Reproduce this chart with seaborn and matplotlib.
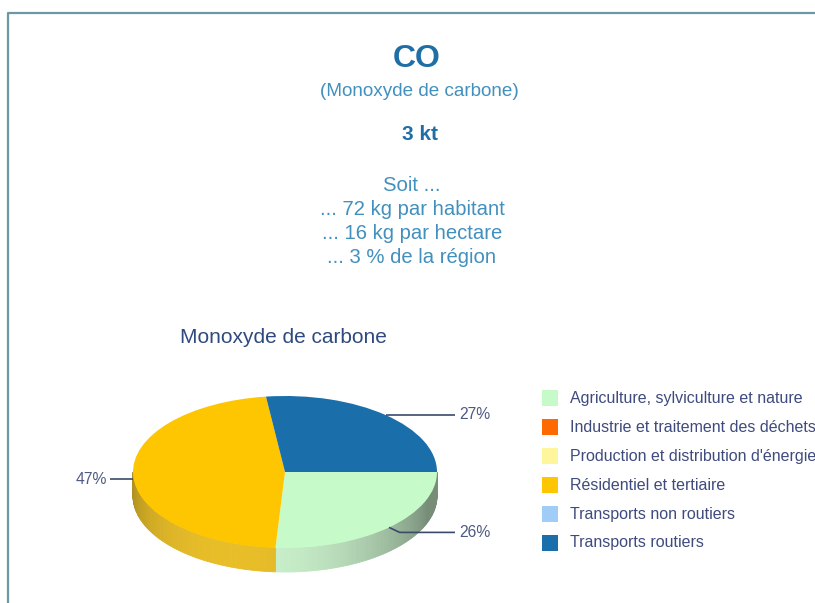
import numpy as np
import matplotlib
matplotlib.use("Agg")
import matplotlib.pyplot as plt
import matplotlib.colors as mcolors
from matplotlib.patches import Polygon, Rectangle
import seaborn as sns

# ---------------- data ----------------
pollutant = "CO"
pollutant_name = "(Monoxyde de carbone)"
total_label = "3 kt"
detail_lines = ["Soit ...", "... 72 kg par habitant", "... 16 kg par hectare", "... 3 % de la région"]
chart_title = "Monoxyde de carbone"
sectors = [
    "Agriculture, sylviculture et nature",
    "Industrie et traitement des déchets",
    "Production et distribution d'énergie",
    "Résidentiel et tertiaire",
    "Transports non routiers",
    "Transports routiers",
]
shares = [26, 0, 0, 47, 0, 27]
sector_colors = ["#c6fac8", "#ff6a00", "#fff59c", "#fec600", "#9fcdf7", "#1a6eaa"]

# ---------------- style ----------------
sns.set_theme(style="white")
plt.rcParams["font.family"] = ["Liberation Sans", "DejaVu Sans"]

W, H = 815, 603
fig = plt.figure(figsize=(W / 100, H / 100), dpi=100)
fig.patch.set_facecolor("white")

# overlay axes in pixel coordinates
ov = fig.add_axes([0, 0, 1, 1])
ov.set_xlim(0, W)
ov.set_ylim(H, 0)
ov.axis("off")

# frame border
ov.plot([8, 8, W], [H, 13, 13], color="#6c98a4", lw=1.6, solid_capstyle="butt")

# header texts
blue_dark = "#1f6ea6"
blue_mid = "#4290bd"
ov.text(417, 67, pollutant, ha="center", va="baseline", fontsize=23, fontweight="bold", color=blue_dark)
ov.text(419, 96, pollutant_name, ha="center", va="baseline", fontsize=13.6, color=blue_mid)
ov.text(420, 140, total_label, ha="center", va="baseline", fontsize=15, fontweight="bold", color=blue_dark)
for i, line in enumerate(detail_lines):
    ov.text(412, 191 + 24 * i, line, ha="center", va="baseline", fontsize=14.6, color=blue_mid)

ov.text(180, 343, chart_title, ha="left", va="baseline", fontsize=15, color="#2f4a7e")

# legend
for i, (name, col) in enumerate(zip(sectors, sector_colors)):
    y = 398 + 29 * i
    ov.add_patch(Rectangle((542, y - 8), 16, 16, facecolor=col, edgecolor="none"))
    ov.text(570, y, name, ha="left", va="center", fontsize=11.5, color="#3f4b7d")

# ---------------- pie ----------------
px0, px1, py0, py1 = 60, 510, 372, 600
cx, cy, rx, ry = 285, 472, 152, 76
depth = 24 / ry
pa = fig.add_axes([px0 / W, (H - py1) / H, (px1 - px0) / W, (py1 - py0) / H])
vals = np.array(shares, float)
nz = vals > 0
pa.pie(vals[nz], colors=list(np.array(sector_colors)[nz]), startangle=0, counterclock=False,
       radius=1, center=(0, 0), wedgeprops=dict(linewidth=0))
pa.set_aspect("auto")
pa.set_xlim(-(cx - px0) / rx, (px1 - cx) / rx)
pa.set_ylim(-(py1 - cy) / ry, (cy - py0) / ry)
pa.axis("off")

frac = vals / vals.sum()
ends = np.cumsum(frac)
starts = ends - frac
light_dir = np.deg2rad(250)
for s, e, c, v in zip(starts, ends, sector_colors, vals):
    if v <= 0:
        continue
    a0, a1 = 360 - e * 360, 360 - s * 360
    lo, hi = max(a0, 180), min(a1, 360)
    if hi <= lo:
        continue
    ts = np.linspace(lo, hi, int(hi - lo) + 2)
    base = np.array(mcolors.to_rgb(c))
    grey = base.mean()
    for t0, t1 in zip(ts[:-1], ts[1:]):
        tm = np.deg2rad((t0 + t1) / 2)
        f = 0.55 + 0.42 * max(0.0, np.cos(tm - light_dir))
        col = np.clip((0.78 * base + 0.22 * grey) * f + 0.03, 0, 1)
        r0, r1 = np.deg2rad(t0), np.deg2rad(t1)
        poly = [(np.cos(r0), np.sin(r0)), (np.cos(r1), np.sin(r1)),
                (np.cos(r1), np.sin(r1) - depth), (np.cos(r0), np.sin(r0) - depth)]
        pa.add_patch(Polygon(poly, closed=True, facecolor=col, edgecolor=col, lw=0.6, zorder=0.5))

# leader lines and labels
for s, e, v in zip(starts, ends, vals):
    if v <= 0:
        continue
    m = np.deg2rad(360 - (s + e) / 2 * 360)
    x0, y0 = np.cos(m), np.sin(m)
    right = x0 >= 0
    drop = 5 / ry if y0 < 0 else 0.0
    if right:
        xend = (455 - cx) / rx
        if drop:
            xs, ys = [x0, x0 + 0.07, xend], [y0, y0 - drop, y0 - drop]
        else:
            xs, ys = [x0, xend], [y0, y0]
    else:
        xend = (110 - cx) / rx
        xs, ys = [x0, xend], [y0 - drop, y0 - drop]
    pa.plot(xs, ys, color="#3b4a6b", lw=1.2, zorder=3, solid_capstyle="butt")
    pa.text(xend + (4 / rx if right else -3 / rx), y0 - drop, f"{v:.0f}%",
            ha="left" if right else "right", va="center", fontsize=11.3, color="#4e5a82")

fig.savefig("out.png", dpi=100, facecolor="white")
